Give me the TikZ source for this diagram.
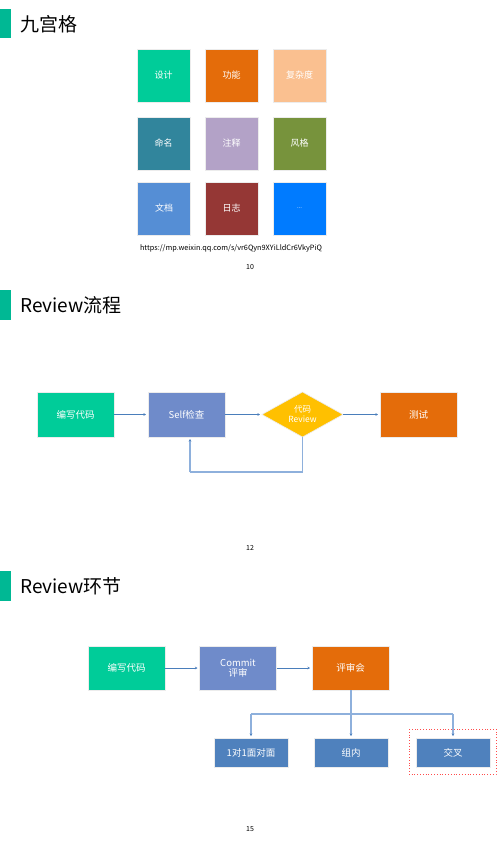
\documentclass[tikz,border=0pt]{standalone}
\usepackage{fontspec}
\setmainfont{Noto Sans CJK SC}
\usetikzlibrary{shapes.geometric,arrows.meta}
\definecolor{cteal}{HTML}{00CC99}
\definecolor{corange}{HTML}{E46C0A}
\definecolor{cpeach}{HTML}{FAC090}
\definecolor{cpetrol}{HTML}{31859C}
\definecolor{clav}{HTML}{B3A2C7}
\definecolor{colive}{HTML}{77933C}
\definecolor{csky}{HTML}{558ED5}
\definecolor{cbrick}{HTML}{953735}
\definecolor{cblue}{HTML}{007BFF}
\definecolor{cperi}{HTML}{6F8BCA}
\definecolor{cgold}{HTML}{FFC000}
\definecolor{csteel}{HTML}{4F81BD}
\definecolor{cline}{HTML}{4A7EBB}
\definecolor{clight}{HTML}{8EB0DC}
\definecolor{cbar}{HTML}{00B894}
\begin{document}
\begin{tikzpicture}[x=1pt,y=-1pt,
  bar/.style={fill=cbar,draw=none},
  title/.style={anchor=west,inner sep=0pt,font=\fontsize{19}{19}\selectfont},
  sq/.style={draw=white!85!gray,line width=0.6pt,outer sep=0pt,minimum width=53pt,minimum height=53pt,inner sep=0pt,text=white,font=\fontsize{9}{9}\selectfont},
  fbox/.style={draw=white!85!gray,line width=0.6pt,outer sep=0pt,minimum width=77pt,minimum height=45pt,inner sep=0pt,text=white,font=\fontsize{9.5}{10}\selectfont,align=center},
  sbox/.style={draw=white!85!gray,line width=0.6pt,outer sep=0pt,fill=csteel,minimum width=74pt,minimum height=29pt,inner sep=0pt,text=white,font=\fontsize{9.5}{10}\selectfont},
  pnum/.style={font=\fontsize{7}{7}\selectfont,inner sep=0pt},
  arr/.style={draw=cline,line width=0.8pt,-{Stealth[length=2.5pt,width=2.5pt]},shorten >=2pt},
  loopl/.style={draw=clight,line width=1.4pt},
  looparr/.style={draw=clight,line width=1.4pt,-{Stealth[length=2.5pt,width=2.5pt,color=cline]},shorten >=2pt}
]
\useasboundingbox (0,0) rectangle (500,844);
\fill[white] (0,0) rectangle (500,844);

% ===== Section 1 =====
\fill[bar] (0,9) rectangle (11,38);
\node[title] (t1) at (20,24) {九宫格};
\node[sq,fill=cteal]   (a1) at (163.5,75.5) {设计};
\node[sq,fill=corange] (a2) at (231.5,75.5) {功能};
\node[sq,fill=cpeach]  (a3) at (299.5,75.5) {复杂度};
\node[sq,fill=cpetrol] (b1) at (163.5,143.5) {命名};
\node[sq,fill=clav]    (b2) at (231.5,143.5) {注释};
\node[sq,fill=colive]  (b3) at (299.5,143.5) {风格};
\node[sq,fill=csky]    (c1) at (164,208.5) {文档};
\node[sq,fill=cbrick]  (c2) at (231.5,208.5) {日志};
\node[sq,fill=cblue,font=\fontsize{6}{6}\selectfont]   (c3) at (299.5,208.5) {...};
\node[font=\fontsize{7.3}{8}\selectfont,inner sep=0pt] (url) at (231,248.5) {https://mp.weixin.qq.com/s/vr6Qyn9XYiLldCr6VkyPiQ};
\node[pnum] (p1) at (250,267) {10};

% ===== Section 2 =====
\fill[bar] (0,290) rectangle (11,320);
\node[title] (t2) at (20,305) {Review流程};
\node[fbox,fill=cteal] (w1) at (75.5,414.5) {编写代码};
\node[fbox,fill=cperi] (s1) at (186.5,414.5) {Self检查};
\node[diamond,fill=cgold,draw=white!85!gray,line width=0.6pt,outer sep=0pt,minimum width=81pt,minimum height=45pt,inner sep=0pt,aspect=1.8,text=white,font=\fontsize{8.5}{10}\selectfont,align=center] (d1) at (302.5,414.5) {代码\\Review};
\node[fbox,fill=corange] (te) at (418.5,414.5) {测试};
\draw[arr] (w1.east) -- (s1.west);
\draw[arr] (s1.east) -- (d1.west);
\draw[arr] (d1.east) -- (te.west);
\coordinate (l1) at (302.5,472);
\coordinate (l2) at (190,472);
\draw[loopl] (d1.south) -- (l1) -- (l2);
\draw[looparr] (l2) -- (s1.south -| l2);
\node[pnum] (p2) at (250,548) {12};

% ===== Section 3 =====
\fill[bar] (0,571) rectangle (11,601);
\node[title] (t3) at (20,586) {Review环节};
\node[fbox,fill=cteal,minimum height=44pt] (w2) at (126.5,668) {编写代码};
\node[fbox,fill=cperi,minimum height=44pt,font=\fontsize{9.5}{10}\selectfont] (cm) at (238,668) {Commit\\评审};
\node[fbox,fill=corange,minimum height=44pt] (ps) at (350.5,668) {评审会};
\draw[arr] (w2.east) -- (cm.west);
\draw[arr] (cm.east) -- (ps.west);
\node[sbox] (o1) at (251,752.5) {1对1面对面};
\node[sbox] (o2) at (351,752.5) {组内};
\node[sbox] (o3) at (453,752.5) {交叉};
\coordinate (h1) at (251,714);
\coordinate (h2) at (453,714);
\draw[loopl] (h1) -- (h2);
\draw[looparr] (ps.south -| o2) -- (o2.north);
\draw[looparr] (h1) -- (o1.north);
\draw[looparr] (h2) -- (o3.north);
\draw[red!70,line width=0.8pt,dotted] (409,729) rectangle (496,774);
\node[pnum] (p3) at (250,829) {15};
\end{tikzpicture}
\end{document}
